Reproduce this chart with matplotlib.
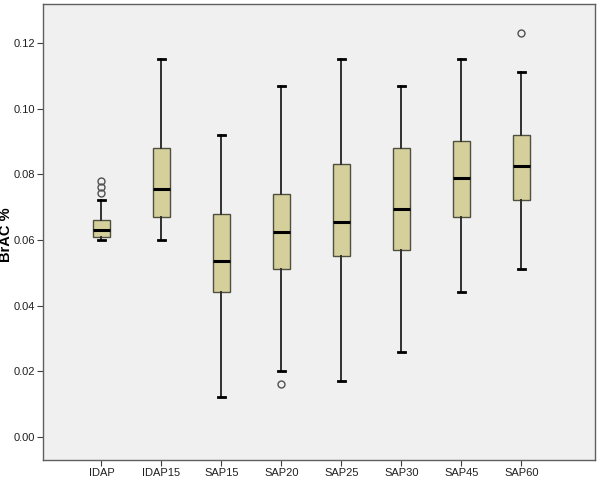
import matplotlib.pyplot as plt

plt.rcParams['font.family'] = ['Liberation Sans', 'DejaVu Sans']

groups = ["IDAP", "IDAP15", "SAP15", "SAP20", "SAP25", "SAP30", "SAP45", "SAP60"]
whislo = [0.060, 0.060, 0.012, 0.020, 0.017, 0.026, 0.044, 0.051]
q1 = [0.061, 0.067, 0.044, 0.051, 0.055, 0.057, 0.067, 0.072]
med = [0.063, 0.0755, 0.0535, 0.0625, 0.0655, 0.0695, 0.079, 0.0825]
q3 = [0.066, 0.088, 0.068, 0.074, 0.083, 0.088, 0.090, 0.092]
whishi = [0.072, 0.115, 0.092, 0.107, 0.115, 0.107, 0.115, 0.111]
fliers = [[0.0778, 0.0761, 0.0744], [], [], [0.016], [], [], [], [0.123]]

stats = []
for i, g in enumerate(groups):
    stats.append({"label": g, "whislo": whislo[i], "q1": q1[i], "med": med[i],
                  "q3": q3[i], "whishi": whishi[i], "fliers": fliers[i]})

fig = plt.figure(figsize=(6, 4.8), dpi=100)
ax = fig.add_axes([0.072, 0.042, 0.920, 0.950])
ax.set_facecolor("#f0f0f0")

ax.bxp(stats, positions=range(len(groups)), widths=0.28, patch_artist=True,
       boxprops=dict(facecolor="#d4cf9b", edgecolor="#505040", linewidth=1.0),
       medianprops=dict(color="black", linewidth=2.2),
       whiskerprops=dict(color="#303030", linewidth=1.4),
       capprops=dict(color="black", linewidth=2.0),
       capwidths=0.12,
       flierprops=dict(marker="o", markersize=5, markerfacecolor="none",
                       markeredgecolor="#505050", markeredgewidth=1.0))

ax.set_xlim(-0.97, 8.23)
ax.set_ylim(-0.007, 0.1319)
ax.set_yticks([0.00, 0.02, 0.04, 0.06, 0.08, 0.10, 0.12])
ax.set_yticklabels(["0.00", "0.02", "0.04", "0.06", "0.08", "0.10", "0.12"])
ax.set_xticks(range(len(groups)))
ax.set_xticklabels(groups)
ax.tick_params(axis="both", labelsize=8, length=4, color="#404040", labelcolor="#202020")
ax.tick_params(axis="x", pad=2)
ax.tick_params(axis="y", pad=2)

for s in ax.spines.values():
    s.set_color("#606060")
    s.set_linewidth(1.0)

ax.set_ylabel("BrAC %", fontsize=10.5, fontweight="bold")
ax.yaxis.set_label_coords(-0.055, 0.493)

fig.savefig("out.png", dpi=100)
